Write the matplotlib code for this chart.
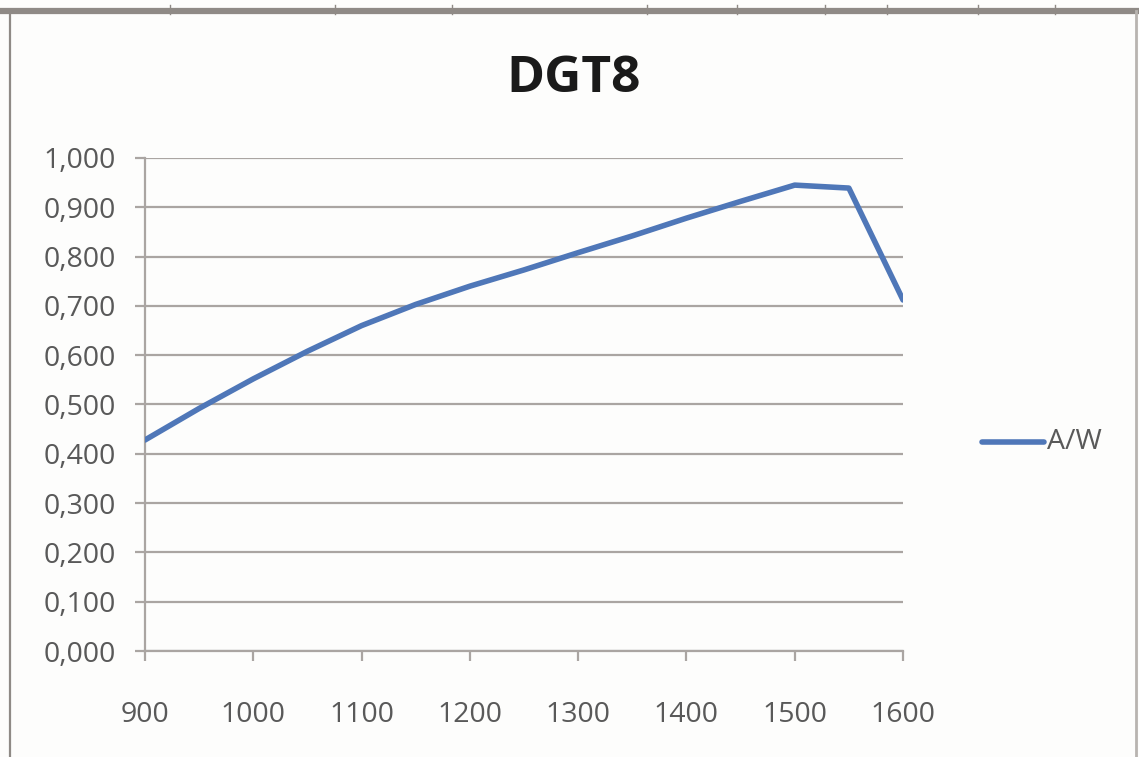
import matplotlib
matplotlib.use("Agg")
import matplotlib.pyplot as plt
from matplotlib.lines import Line2D
from matplotlib.ticker import FuncFormatter, MultipleLocator

# Spectral responsivity of the DGT8 photodiode
wavelength = [900, 950, 1000, 1050, 1100, 1150, 1200, 1250, 1300,
              1350, 1400, 1450, 1500, 1550, 1600]
responsivity = [0.428, 0.492, 0.552, 0.608, 0.660, 0.703, 0.740, 0.773,
                0.808, 0.842, 0.878, 0.912, 0.945, 0.939, 0.712]
series_label = "A/W"
title = "DGT8"

W, H = 1139, 757
plt.rcParams["font.family"] = ["Open Sans", "DejaVu Sans"]

fig = plt.figure(figsize=(W / 100, H / 100), dpi=100)
fig.patch.set_facecolor("#fdfdfc")

ax = fig.add_axes([145 / W, 1 - 651 / H, (903 - 145) / W, (651 - 158) / H])
ax.set_facecolor("none")

line_color = "#4f77b8"
grid_color = "#aaa5a2"
text_color = "#595959"

ax.plot(wavelength, responsivity, color=line_color, lw=4.0,
        solid_joinstyle="round", solid_capstyle="round", label=series_label,
        zorder=3)

ax.set_xlim(900, 1600)
ax.set_ylim(0, 1.0)
ax.xaxis.set_major_locator(MultipleLocator(100))
ax.yaxis.set_major_locator(MultipleLocator(0.1))
ax.yaxis.set_major_formatter(FuncFormatter(lambda v, p: f"{v:.3f}".replace(".", ",")))

ax.grid(axis="y", color=grid_color, lw=1.6)
ax.set_axisbelow(True)
for s in ("top", "right"):
    ax.spines[s].set_visible(False)
for s in ("left", "bottom"):
    ax.spines[s].set_color(grid_color)
    ax.spines[s].set_linewidth(1.6)

ax.tick_params(axis="both", colors=grid_color, length=7, width=1.6,
               labelcolor=text_color, labelsize=20.5)
ax.tick_params(axis="x", pad=29)
ax.tick_params(axis="y", pad=14)

fig.text(574 / W, 1 - 79 / H, title, ha="center", va="center",
         fontsize=37, fontweight="bold", color="#1a1a1a")

# Legend entry on the right
fig.add_artist(Line2D([982 / W, 1044 / W], [1 - 442 / H, 1 - 442 / H],
                      color=line_color, lw=4.0, solid_capstyle="round"))
fig.text(1047 / W, 1 - 442 / H, series_label, ha="left", va="center",
         fontsize=20.5, color=text_color)

# Sheet frame around the chart
frame = "#8f8a86"
fig.add_artist(Line2D([0, 1], [1 - 11 / H, 1 - 11 / H], color=frame, lw=4.5))
fig.add_artist(Line2D([10 / W, 10 / W], [0, 1 - 11 / H], color=frame, lw=1.6))
fig.add_artist(Line2D([1136 / W, 1136 / W], [0, 1 - 11 / H], color="#b8b4b0", lw=2.0))
for xc in [170, 335, 452, 647, 737, 825, 887, 978, 1055]:
    fig.add_artist(Line2D([xc / W, xc / W], [1 - 14 / H, 1 - 5 / H],
                          color=frame, lw=1.0))

fig.savefig("out.png", dpi=100, facecolor=fig.get_facecolor())
